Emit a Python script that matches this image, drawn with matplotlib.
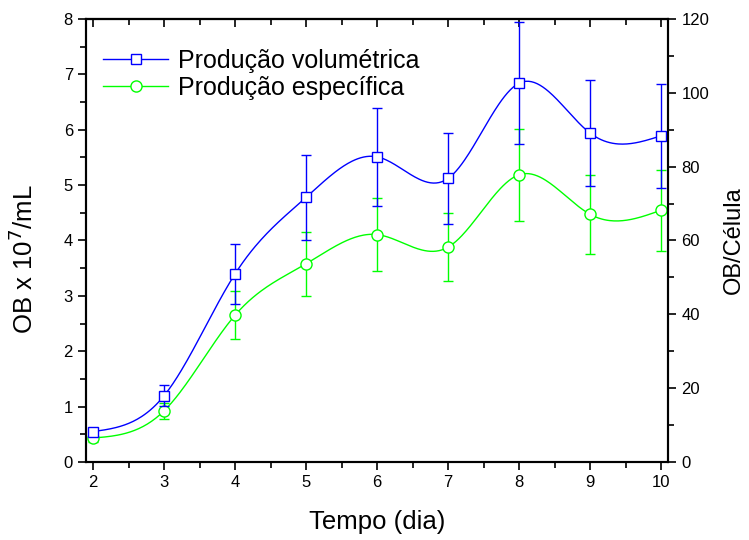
import numpy as np
import matplotlib.pyplot as plt
from matplotlib.ticker import MultipleLocator

plt.rcParams['font.family'] = ['Liberation Sans', 'DejaVu Sans']

dias = [2, 3, 4, 5, 6, 7, 8, 9, 10]
# OB x 10^7/mL (eixo esquerdo)
vol = [0.55, 1.2, 3.4, 4.78, 5.51, 5.12, 6.84, 5.94, 5.89]
vol_err = [0.06, 0.19, 0.54, 0.77, 0.88, 0.82, 1.1, 0.95, 0.94]
# OB/Célula (eixo direito)
esp = [6.5, 13.9, 39.8, 53.7, 61.6, 58.2, 77.8, 67.1, 68.2]
esp_err = [1.0, 2.2, 6.4, 8.7, 9.9, 9.3, 12.5, 10.7, 11.0]


def spline(x, y, n=400):
    # spline cúbica natural
    x = np.asarray(x, float)
    y = np.asarray(y, float)
    m = len(x)
    h = np.diff(x)
    A = np.zeros((m, m))
    b = np.zeros(m)
    A[0, 0] = 1
    A[-1, -1] = 1
    for i in range(1, m - 1):
        A[i, i - 1] = h[i - 1]
        A[i, i] = 2 * (h[i - 1] + h[i])
        A[i, i + 1] = h[i]
        b[i] = 6 * ((y[i + 1] - y[i]) / h[i] - (y[i] - y[i - 1]) / h[i - 1])
    M = np.linalg.solve(A, b)
    xs = np.linspace(x[0], x[-1], n)
    k = np.clip(np.searchsorted(x, xs) - 1, 0, m - 2)
    t1 = x[k + 1] - xs
    t2 = xs - x[k]
    hk = h[k]
    ys = (M[k] * t1**3 + M[k + 1] * t2**3) / (6 * hk) \
        + (y[k] / hk - M[k] * hk / 6) * t1 + (y[k + 1] / hk - M[k + 1] * hk / 6) * t2
    return xs, ys


fig = plt.figure(figsize=(7.49, 5.4), dpi=100)
ax = fig.add_axes([0.115, 0.1444, 0.777, 0.8205])
ax2 = ax.twinx()
ax.set_zorder(ax2.get_zorder() + 1)
ax.patch.set_visible(False)

azul = '#0000FF'
verde = '#00FF00'

xs, ys = spline(dias, esp)
ax2.plot(xs, ys, color=verde, lw=1.0)
ax2.errorbar(dias, esp, yerr=esp_err, fmt='none', ecolor=verde, elinewidth=1.0,
             capsize=3.6, capthick=1.0)
ax2.plot(dias, esp, 'o', color=verde, mfc='white', ms=8, mew=1.0)

xs, ys = spline(dias, vol)
ax.plot(xs, ys, color=azul, lw=1.0)
ax.errorbar(dias, vol, yerr=vol_err, fmt='none', ecolor=azul, elinewidth=1.0,
            capsize=3.6, capthick=1.0)
ax.plot(dias, vol, 's', color=azul, mfc='white', ms=7, mew=1.0)

h1, = ax.plot([], [], '-s', color=azul, mfc='white', ms=7, mew=1.0, lw=1.0)
h2, = ax.plot([], [], '-o', color=verde, mfc='white', ms=8, mew=1.0, lw=1.0)
ax.legend([h1, h2], ['Produção volumétrica', 'Produção específica'],
          loc='upper left', bbox_to_anchor=(0.029, 0.932), frameon=False,
          borderpad=0, borderaxespad=0,
          fontsize=18, handlelength=2.6, handletextpad=0.4, labelspacing=0.12)

ax.set_xlim(1.9, 10.1)
ax.set_ylim(0, 8)
ax2.set_ylim(0, 120)
ax.xaxis.set_major_locator(MultipleLocator(1))
ax.xaxis.set_minor_locator(MultipleLocator(0.5))
ax.yaxis.set_major_locator(MultipleLocator(1))
ax.yaxis.set_minor_locator(MultipleLocator(0.5))
ax2.yaxis.set_major_locator(MultipleLocator(20))
ax2.yaxis.set_minor_locator(MultipleLocator(10))

ax.tick_params(axis='x', which='both', direction='out', labelsize=12)
ax.tick_params(axis='y', which='both', direction='out', labelsize=12)
ax.tick_params(which='major', length=6, width=1.2)
ax.tick_params(which='minor', length=4, width=1.2)
ax2.tick_params(axis='y', which='both', direction='out', labelsize=12, width=1.2)
ax2.tick_params(which='major', length=6)
ax2.tick_params(which='minor', length=4)

# ticks do topo para dentro
sec = ax.secondary_xaxis('top')
sec.xaxis.set_major_locator(MultipleLocator(1))
sec.xaxis.set_minor_locator(MultipleLocator(0.5))
sec.tick_params(which='both', direction='in', labeltop=False, width=1.2)
sec.tick_params(which='major', length=6)
sec.tick_params(which='minor', length=4)
sec.spines['top'].set_linewidth(1.5)

for a in (ax, ax2):
    for s in a.spines.values():
        s.set_linewidth(1.5)

ax.set_xlabel('Tempo (dia)', fontsize=18.5, labelpad=14)
ax.set_ylabel('OB x 10$^7$/mL', fontsize=18.5)
ax.yaxis.set_label_coords(-0.083, 0.457)
ax2.set_ylabel('OB/Célula', fontsize=17, labelpad=10)

fig.savefig('out.png', dpi=100)
